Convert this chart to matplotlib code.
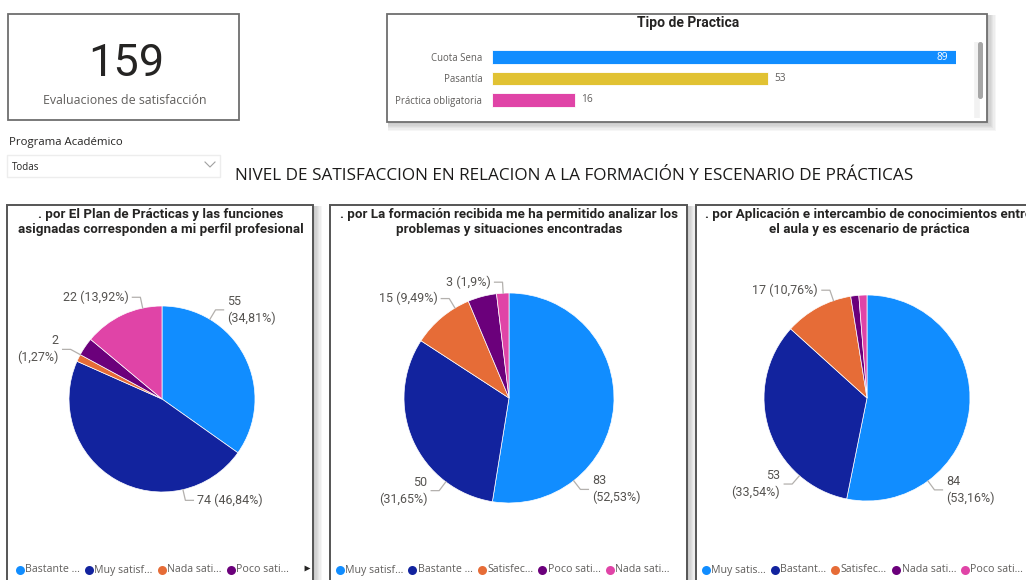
import numpy as np
import matplotlib as mpl
mpl.use('Agg')
import matplotlib.pyplot as plt
from matplotlib.patches import Rectangle, FancyBboxPatch

W, H = 1026, 580

# tarjeta de total
total_evaluaciones = 159

# tipo de practica
tipos = ['Cuota Sena', 'Pasantía', 'Práctica obligatoria']
tipos_n = [89, 53, 16]
tipos_colores = ['#118DFF', '#E1C233', '#E044A7']

# tortas de satisfaccion (orden de cada visual)
titulo1 = '. por El Plan de Prácticas y las funciones\nasignadas corresponden a mi perfil profesional'
pie1_n = [55, 74, 2, 5, 22]
pie1_leyenda = ['Bastante ...', 'Muy satisf...', 'Nada sati...', 'Poco sati...']

titulo2 = '. por La formación recibida me ha permitido analizar los\nproblemas y situaciones encontradas'
pie2_n = [83, 50, 15, 7, 3]
pie2_leyenda = ['Muy satisf...', 'Bastante ...', 'Satisfec...', 'Poco sati...', 'Nada sati...']

titulo3 = '. por Aplicación e intercambio de conocimientos entre\nel aula y es escenario de práctica'
pie3_n = [84, 53, 17, 2, 2]
pie3_leyenda = ['Muy satis...', 'Bastant...', 'Satisfec...', 'Nada sati...', 'Poco sati...']

pie_colores = ['#118DFF', '#12239E', '#E66C37', '#6B007B', '#E044A7']

GRIS = '#605E5C'
OSCURO = '#252423'
UI = ['Open Sans', 'DejaVu Sans']
DIN = ['Roboto', 'DejaVu Sans']

fig = plt.figure(figsize=(W / 100, H / 100), dpi=100)
cv = fig.add_axes([0, 0, 1, 1])
cv.set_xlim(0, W)
cv.set_ylim(H, 0)
cv.axis('off')


def sombra(x0, y0, x1, y1, n=6):
    for i in range(n, 0, -1):
        cv.add_patch(Rectangle((x0 + 1, y0 + 1), x1 - x0 + i * 1.3, y1 - y0 + i * 1.3,
                               fc='black', ec='none', alpha=0.035, zorder=1))


def caja(x0, y0, x1, y1, ec='#6E6E6E', lw=1.3, sh=True):
    if sh:
        sombra(x0, y0, x1, y1)
    cv.add_patch(Rectangle((x0, y0), x1 - x0, y1 - y0, fc='white', ec=ec, lw=lw, zorder=2))


# tarjeta
caja(8, 14, 239, 120, sh=False)
cv.text(126, 64, str(total_evaluaciones), ha='center', va='center', fontsize=32.5,
        family=DIN, color=OSCURO, zorder=3)
cv.text(125, 100, 'Evaluaciones de satisfacción', ha='center', va='center', fontsize=8.9,
        family=UI, color=GRIS, zorder=3)

# filtro
cv.text(9, 143, 'Programa Académico', ha='left', va='center', fontsize=8.2, family=UI,
        color=OSCURO, zorder=3)
cv.add_patch(Rectangle((7, 155), 213, 22, fc='white', ec='#EDEDED', lw=1, zorder=2))
cv.text(12, 168, 'Todas', ha='left', va='center', fontsize=7, family=UI, color=OSCURO, zorder=3)
cv.plot([205, 210, 215], [162, 167, 162], color='#A0A0A0', lw=0.8, zorder=3)

# tarjeta de tipo de practica
caja(387, 14, 987, 122)
cv.text(688, 23, 'Tipo de Practica', ha='center', va='center', fontsize=10, family=DIN,
        weight='bold', color=OSCURO, zorder=3)
cv.add_patch(Rectangle((977, 42), 0.1, 76, fc='#F2F2F2', ec='#F2F2F2', lw=4, zorder=3))
cv.add_patch(FancyBboxPatch((978, 42), 5, 57, boxstyle='round,pad=0,rounding_size=2.5',
                            fc='#A6A6A6', ec='none', zorder=4))

# titulo general
cv.text(574, 176, 'NIVEL DE SATISFACCION EN RELACION A LA FORMACIÓN Y ESCENARIO DE PRÁCTICAS',
        ha='center', va='center', fontsize=12.3, family=UI, color='#1B1A19', zorder=3)

# paneles
paneles = [(7, 313), (330, 687), (696, 1040)]
for x0, x1 in paneles:
    caja(x0, 205, x1, 600, ec='#555555', lw=1.4)

titulos = [titulo1, titulo2, titulo3]
for (x0, x1), t in zip(paneles, titulos):
    cv.text((x0 + x1) / 2 + 1, 222, t, ha='center', va='center', fontsize=9.6, family=DIN,
            weight='bold', color=OSCURO, linespacing=1.15, zorder=5, clip_on=True)


def fmt(v, tot):
    p = ('%.2f' % (100.0 * v / tot)).rstrip('0').rstrip('.').replace('.', ',')
    return '%d' % v, '(%s%%)' % p


def pastel(cx, cy, r, valores, etiquetas):
    cv.pie(valores, colors=pie_colores[:len(valores)], center=(cx, cy), radius=r,
           startangle=-90, counterclock=True, frame=True,
           wedgeprops=dict(ec='white', lw=0.5, zorder=4))
    tot = sum(valores)
    for i, (ang, dos) in etiquetas.items():
        t = np.deg2rad(ang - 90)
        ux, uy = np.cos(t), np.sin(t)
        lado = 1 if ux > 0 else -1
        p0 = (cx + r * ux, cy + r * uy)
        p1 = (cx + (r + 11) * ux, cy + (r + 11) * uy)
        p2 = (p1[0] + 8 * lado, p1[1])
        cv.plot([p0[0], p1[0], p2[0]], [p0[1], p1[1], p2[1]], color='#B3B0AD', lw=0.9, zorder=4)
        a, b = fmt(valores[i], tot)
        txt = a + '\n' + b if dos else a + ' ' + b
        ha = 'left' if lado > 0 else 'right'
        cv.text(p2[0] + 4 * lado, p2[1], txt, ha=ha, va='center', multialignment=ha,
                fontsize=9, family=DIN, color='#555350', linespacing=1.35, zorder=5)


def leyenda(x, y, etiquetas):
    rend = fig.canvas.get_renderer()
    for lab, col in zip(etiquetas, pie_colores):
        cv.scatter([x + 4.5], [y], s=42, color=col, lw=0, zorder=5)
        t = cv.text(x + 10, y, lab, ha='left', va='center', fontsize=7.7, family=UI,
                    color=GRIS, zorder=5)
        x = t.get_window_extent(rend).x1 + 4.5
    return x


# angulo (grados desde las 12 en sentido horario) y si la etiqueta va en dos lineas
pastel(162, 399, 93, pie1_n, {0: (31, True), 1: (167, False), 2: (298.5, True), 4: (348, False)})
pastel(509, 398, 105, pie2_n, {0: (142, True), 1: (217, True), 2: (329, False), 4: (356.8, False)})
pastel(867, 398, 103, pie3_n, {0: (143.7, True), 1: (221, True), 2: (341, False)})

leyenda(15, 570, pie1_leyenda)
cv.scatter([307], [568], s=18, marker='>', color='#252423', lw=0, zorder=5)
leyenda(335, 570, pie2_leyenda)
leyenda(701, 570, pie3_leyenda)

cv.set_xlim(0, W)
cv.set_ylim(H, 0)
cv.set_aspect('auto')

# barras de tipo de practica
bx = fig.add_axes([492 / W, 1 - 110.75 / H, (956 - 492) / W, 64.5 / H])
bx.patch.set_alpha(0)
y = np.arange(len(tipos))
bx.barh(y, tipos_n, height=0.62, color=tipos_colores, edgecolor='white', lw=0.6)
bx.set_xlim(0, max(tipos_n))
bx.set_ylim(len(tipos) - 0.5, -0.5)
bx.set_yticks(y, tipos)
bx.set_xticks([])
bx.tick_params(axis='y', length=0, pad=7, labelsize=6.9, labelcolor=GRIS)
for lab in bx.get_yticklabels():
    lab.set_family(UI)
for s in bx.spines.values():
    s.set_visible(False)
for i, v in enumerate(tipos_n):
    if v == max(tipos_n):
        bx.annotate(str(v), (v, i), xytext=(-6, 0), textcoords='offset points', ha='right',
                    va='center', fontsize=7.3, family=UI, color='white')
    else:
        bx.annotate(str(v), (v, i), xytext=(4, 0), textcoords='offset points', ha='left',
                    va='center', fontsize=7.3, family=UI, color=GRIS)

fig.savefig('out.png', dpi=100, facecolor='white')
